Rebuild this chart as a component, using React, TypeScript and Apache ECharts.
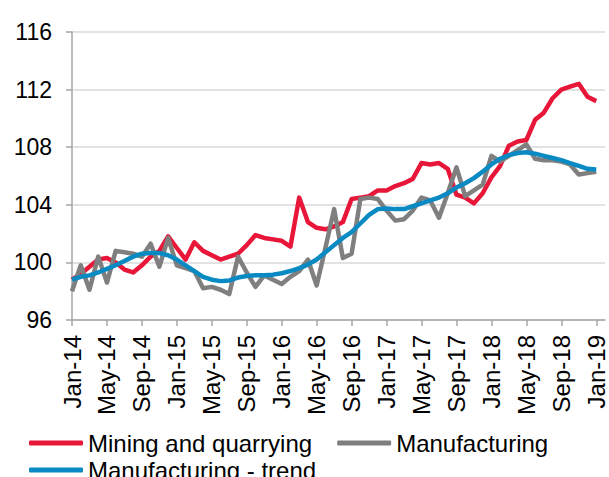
import React, { useEffect, useRef } from "react";
import * as echarts from "echarts";

const categories: string[] = [
  "Jan-14", "Feb-14", "Mar-14", "Apr-14", "May-14", "Jun-14", "Jul-14", "Aug-14", "Sep-14", "Oct-14", "Nov-14", "Dec-14",
  "Jan-15", "Feb-15", "Mar-15", "Apr-15", "May-15", "Jun-15", "Jul-15", "Aug-15", "Sep-15", "Oct-15", "Nov-15", "Dec-15",
  "Jan-16", "Feb-16", "Mar-16", "Apr-16", "May-16", "Jun-16", "Jul-16", "Aug-16", "Sep-16", "Oct-16", "Nov-16", "Dec-16",
  "Jan-17", "Feb-17", "Mar-17", "Apr-17", "May-17", "Jun-17", "Jul-17", "Aug-17", "Sep-17", "Oct-17", "Nov-17", "Dec-17",
  "Jan-18", "Feb-18", "Mar-18", "Apr-18", "May-18", "Jun-18", "Jul-18", "Aug-18", "Sep-18", "Oct-18", "Nov-18", "Dec-18",
  "Jan-19", "Feb-19",
];

const mining: number[] = [
  98.8, 99.2, 99.7, 100.2, 100.3, 100.0, 99.5, 99.3, 99.8, 100.4, 100.8, 101.8,
  101.0, 100.2, 101.4, 100.8, 100.5, 100.2, 100.4, 100.6, 101.2, 101.9, 101.7, 101.6,
  101.5, 101.1, 104.5, 102.8, 102.4, 102.3, 102.5, 102.8, 104.4, 104.5, 104.6, 105.0,
  105.0, 105.3, 105.5, 105.8, 106.9, 106.8, 106.9, 106.5, 104.7, 104.5, 104.1, 104.8,
  105.9, 106.7, 108.1, 108.4, 108.5, 109.9, 110.4, 111.4, 112.0, 112.2, 112.4, 111.5,
  111.2,
];

const manufacturing: number[] = [
  98.0, 99.8, 98.1, 100.4, 98.6, 100.8, 100.7, 100.6, 100.4, 101.3, 99.7, 101.7,
  99.8, 99.6, 99.4, 98.2, 98.3, 98.1, 97.8, 100.4, 99.3, 98.3, 99.1, 98.8,
  98.5, 99.0, 99.4, 100.2, 98.4, 101.0, 103.7, 100.3, 100.6, 104.4, 104.5, 104.4,
  103.6, 102.9, 103.0, 103.6, 104.5, 104.3, 103.1, 104.8, 106.6, 104.6, 105.0, 105.4,
  107.4, 107.0, 107.4, 107.8, 108.2, 107.2, 107.1, 107.1, 107.0, 106.8, 106.1, 106.2,
  106.3,
];

const trend: number[] = [
  98.8, 99.0, 99.1, 99.3, 99.55, 99.8, 100.1, 100.4, 100.6, 100.65, 100.65, 100.5,
  100.2, 99.8, 99.4, 99.0, 98.8, 98.7, 98.75, 98.95, 99.05, 99.1, 99.1, 99.15,
  99.25, 99.4, 99.6, 99.85, 100.2, 100.7, 101.2, 101.7, 102.1, 102.7, 103.3, 103.7,
  103.75, 103.7, 103.7, 103.9, 104.1, 104.3, 104.5, 104.8, 105.2, 105.5, 105.85, 106.3,
  106.8, 107.2, 107.45, 107.6, 107.65, 107.55, 107.4, 107.25, 107.1, 106.9, 106.7, 106.5,
  106.45,
];

const seriesNames = ["Mining and quarrying", "Manufacturing", "Manufacturing - trend"];
const colors = ["#E8173A", "#7F7F7F", "#0A8AC2"];

const FONT = "'Liberation Sans', Arial, sans-serif";

export default function App() {
  const ref = useRef<HTMLDivElement>(null);
  useEffect(() => {
    if (!ref.current) return;
    const chart = echarts.init(ref.current, undefined, { renderer: "svg" });
    const mk = (name: string, data: number[], color: string) => ({
      name,
      type: "line",
      data,
      symbol: "none",
      lineStyle: { color, width: 4.5, cap: "butt", join: "round" },
      itemStyle: { color },
    });
    const legendCommon = {
      itemWidth: 54,
      itemHeight: 5,
      icon: "roundRect",
      padding: 0,
      textStyle: { fontSize: 24, color: "#000", fontFamily: FONT },
    };
    chart.setOption({
      animation: false,
      backgroundColor: "#ffffff",
      textStyle: { fontFamily: FONT },
      grid: { left: 72, top: 32, right: 4, bottom: 157, containLabel: false },
      legend: [
        {
          ...legendCommon,
          data: [seriesNames[0], seriesNames[1]],
          left: 29,
          top: 431,
          itemGap: 25,
        },
        {
          ...legendCommon,
          data: [seriesNames[2]],
          left: 29,
          top: 458,
        },
      ],
      xAxis: {
        type: "category",
        data: categories,
        boundaryGap: false,
        axisLine: { show: true, lineStyle: { color: "#A6A6A6", width: 1.5 } },
        axisTick: { show: true, interval: 3, length: 6, lineStyle: { color: "#A6A6A6", width: 1.5 } },
        axisLabel: {
          interval: 3,
          rotate: 90,
          margin: 15,
          color: "#000",
          fontSize: 24,
          fontFamily: FONT,
        },
        splitLine: { show: false },
      },
      yAxis: {
        type: "value",
        min: 96,
        max: 116,
        interval: 4,
        axisLine: { show: true, lineStyle: { color: "#A6A6A6", width: 1.5 } },
        axisTick: { show: true, length: 6, lineStyle: { color: "#A6A6A6", width: 1.5 } },
        axisLabel: { margin: 20, color: "#000", fontSize: 23, fontFamily: FONT },
        splitLine: { show: true, lineStyle: { color: "#D9D9D9", width: 1.5 } },
      },
      series: [
        mk(seriesNames[0], mining, colors[0]),
        mk(seriesNames[1], manufacturing, colors[1]),
        mk(seriesNames[2], trend, colors[2]),
      ],
    });
    return () => chart.dispose();
  }, []);
  return <div ref={ref} style={{ width: 609, height: 477, position: "absolute", left: 0, top: 0 }} />;
}
